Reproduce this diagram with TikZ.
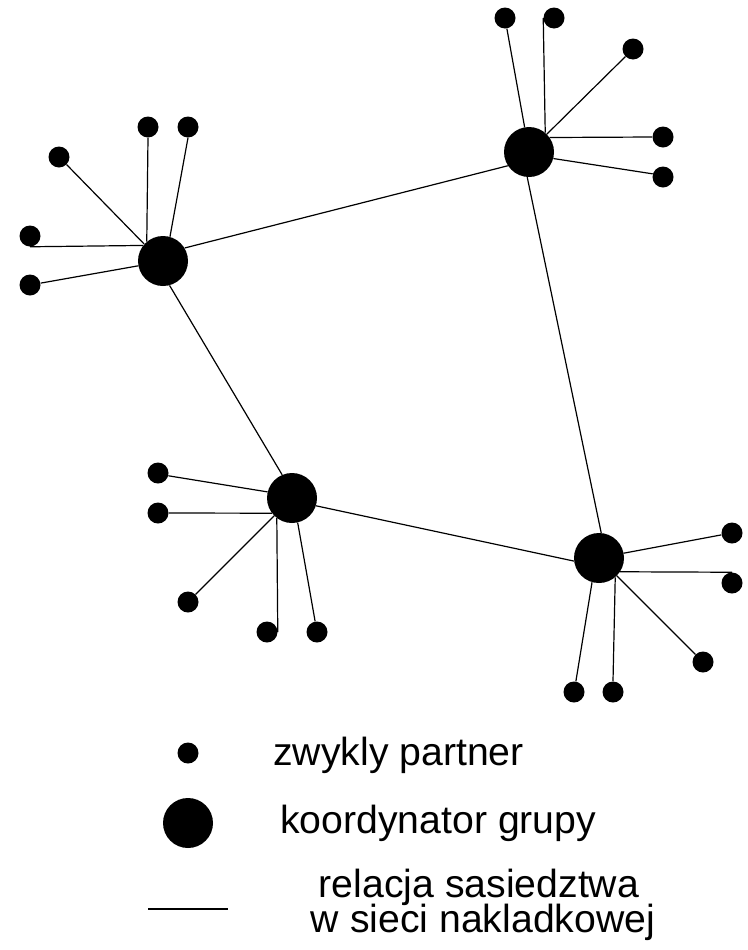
\documentclass[tikz,border=0pt]{standalone}
\usepackage{fontspec}
\setmainfont{Liberation Sans}
\begin{document}
\begin{tikzpicture}[x=0.75pt,y=-0.75pt,
    partner/.style={circle,fill=black,inner sep=0pt,minimum size=15.75pt},
    koord/.style={circle,fill=black,inner sep=0pt,minimum size=37.5pt},
    rel/.style={line width=0.9pt},
    legend/.style={inner sep=0pt,font=\fontsize{29.4pt}{26.25pt}\selectfont}]
    \useasboundingbox (0,0) rectangle (748,950);

    % coordinators
    \node[koord] (A) at (163,261) {};
    \node[koord] (B) at (529,152) {};
    \node[koord] (C) at (292,498) {};
    \node[koord] (D) at (599,558) {};

    % partners
    \node[partner] (a1) at (148,127) {};
    \node[partner] (a2) at (188,127) {};
    \node[partner] (a3) at (59,157) {};
    \node[partner] (a4) at (30,236) {};
    \node[partner] (a5) at (30,285) {};

    \node[partner] (b1) at (505,18) {};
    \node[partner] (b2) at (554,18) {};
    \node[partner] (b3) at (633,49) {};
    \node[partner] (b4) at (663,137) {};
    \node[partner] (b5) at (663,177) {};

    \node[partner] (c1) at (158,473) {};
    \node[partner] (c2) at (158,513) {};
    \node[partner] (c3) at (188,602) {};
    \node[partner] (c4) at (267,632) {};
    \node[partner] (c5) at (317,632) {};

    \node[partner] (d1) at (732,533) {};
    \node[partner] (d2) at (732,583) {};
    \node[partner] (d3) at (703,662) {};
    \node[partner] (d4) at (574,692) {};
    \node[partner] (d5) at (613,692) {};

    % overlay
    \draw[rel] (A.31) -- (B.213);
    \draw[rel] (A.-75) -- (C.113);
    \draw[rel] (B.-94) -- (D.85);
    \draw[rel] (C.-18) -- (D.187);

    % groups
    \draw[rel] (A.130) -- (a1.south);
    \draw[rel] (A.74) -- (a2.south);
    \draw[rel] (A.138) -- (a3.-45);
    \draw[rel] (A.142) -- (a4.south);
    \draw[rel] (A.191) -- (a5.10);

    \draw[rel] (B.100) -- (b1.-80);
    \draw[rel] (B.50) -- (b2.west);
    \draw[rel] (B.45) -- (b3.225);
    \draw[rel] (B.35) -- (b4.west);
    \draw[rel] (B.-15) -- (b5.163);

    \draw[rel] (C.166) -- (c1.-15);
    \draw[rel] (C.217) -- (c2.east);
    \draw[rel] (C.225) -- (c3.45);
    \draw[rel] (C.233) -- (c4.east);
    \draw[rel] (C.-77) -- (c5.100);

    \draw[rel] (D.11) -- (d1.190);
    \draw[rel] (D.-33) -- (d2.north);
    \draw[rel] (D.-45) -- (d3.135);
    \draw[rel] (D.-106) -- (d4.80);
    \draw[rel] (D.-50) -- (d5.north);

    % legend
    \node[partner] (lp) at (188,753) {};
    \node[koord] (lk) at (188,823) {};
    \coordinate (l1) at (148,909);
    \coordinate (l2) at (228,909);
    \draw[rel,line width=1.1pt] (l1) -- (l2);

    \node[legend,anchor=base west] (tp) at (273,765) {zwykly partner};
    \node[legend,anchor=base west] (tk) at (280,833) {koordynator grupy};
    \node[legend,anchor=base] (tr1) at (479,897) {relacja sasiedztwa};
    \node[legend,anchor=base] (tr2) at (483,932) {w sieci nakladkowej};
\end{tikzpicture}
\end{document}
